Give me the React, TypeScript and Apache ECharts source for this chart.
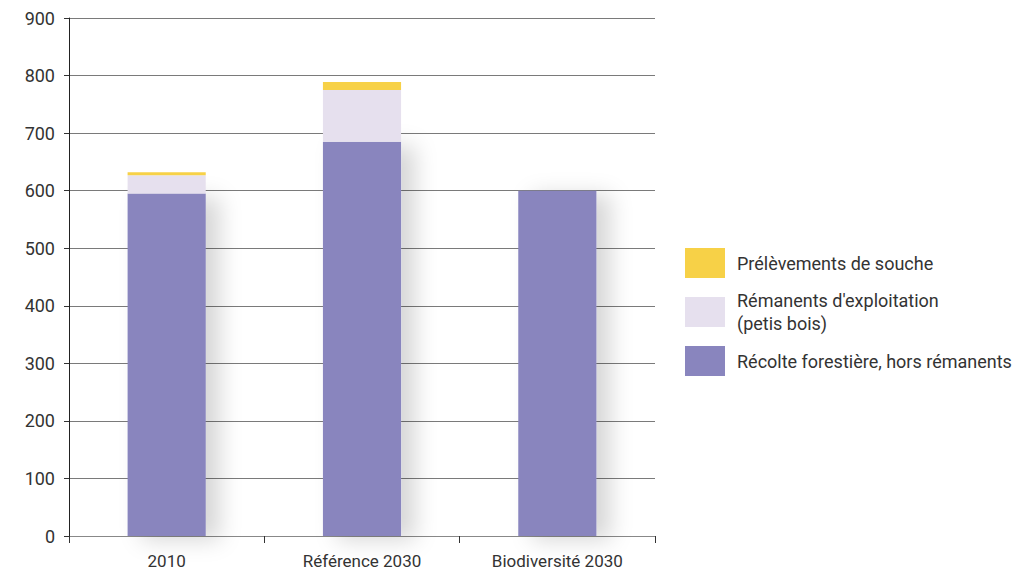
import React, { useEffect, useRef } from "react";
import * as echarts from "echarts";

const categories = ["2010", "Référence 2030", "Biodiversité 2030"];
const recolte = [595, 685, 600];
const remanents = [32, 90, 0];
const souche = [5, 14, 0];
const yTicks = { min: 0, max: 900, interval: 100 };

const seriesNames = [
  "Récolte forestière, hors rémanents",
  "Rémanents d'exploitation\n(petis bois)",
  "Prélèvements de souche",
];
const colors = ["#8985BE", "#E6E0EE", "#F7D147"];
const FONT = "Roboto, 'Noto Sans', sans-serif";

export default function App() {
  const ref = useRef<HTMLDivElement>(null);
  useEffect(() => {
    if (!ref.current) return;
    const chart = echarts.init(ref.current, null, { renderer: "svg" });
    const shadow = {
      shadowColor: "rgba(0,0,0,0.16)",
      shadowBlur: 22,
      shadowOffsetX: 14,
      shadowOffsetY: 4,
    };
    const data = [recolte, remanents, souche];
    chart.setOption({
      animation: false,
      backgroundColor: "#ffffff",
      textStyle: { fontFamily: FONT },
      grid: {
        left: 69,
        right: 361,
        top: 18,
        bottom: 36,
        containLabel: false,
        outerBoundsMode: "none",
      },
      legend: {
        orient: "vertical",
        left: 680,
        top: 243,
        itemWidth: 40,
        itemHeight: 30,
        itemGap: 11,
        icon: "rect",
        data: [seriesNames[2], seriesNames[1], seriesNames[0]],
        textStyle: {
          fontSize: 18,
          fontFamily: FONT,
          color: "#333",
          lineHeight: 23,
          padding: [0, 0, 0, 7],
        },
      },
      xAxis: {
        type: "category",
        data: categories,
        axisLine: { lineStyle: { color: "#888", width: 1 } },
        axisTick: { show: true, length: 7, lineStyle: { color: "#333" } },
        axisLabel: {
          fontSize: 17,
          fontFamily: FONT,
          color: "#333",
          margin: 15,
          lineHeight: 19,
        },
      },
      yAxis: {
        type: "value",
        min: yTicks.min,
        max: yTicks.max,
        interval: yTicks.interval,
        axisLine: { show: true, lineStyle: { color: "#222", width: 1 } },
        axisTick: { show: true, length: 5, lineStyle: { color: "#333" } },
        axisLabel: { fontSize: 18, fontFamily: FONT, color: "#333", margin: 14 },
        splitLine: { lineStyle: { color: "#7a7a7a", width: 1 } },
      },
      series: data.map((d, i) => ({
        name: seriesNames[i],
        type: "bar",
        stack: "total",
        data: d,
        barWidth: "40%",
        itemStyle: { color: colors[i], ...(i === 0 ? shadow : {}) },
      })),
    });
    return () => chart.dispose();
  }, []);
  return (
    <div
      ref={ref}
      style={{ position: "fixed", left: 0, top: 0, width: 1016, height: 572 }}
    />
  );
}
